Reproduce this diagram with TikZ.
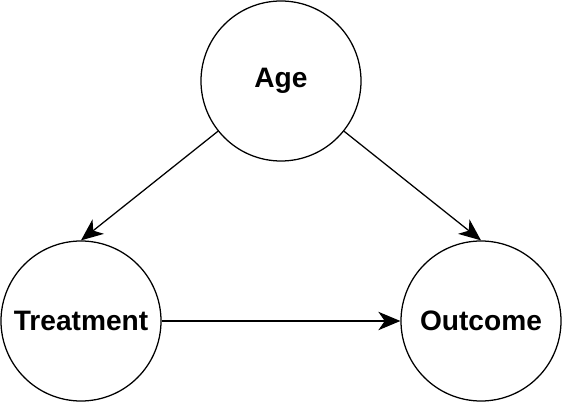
\documentclass[tikz,border=0pt]{standalone}
\usepackage{fontspec}
\setmainfont{Liberation Sans}
\usepackage{tikz}
\usetikzlibrary{arrows.meta,shapes,positioning}
\tikzstyle{arrow} = [line width=0.9pt,-{Stealth[length=5.5mm,width=4.6mm,inset=1.6mm]},color=black]
\tikzstyle{varnode} = [circle, minimum size=4cm, inner sep=0pt, text centered, draw=black, fill=white, line width=0.9pt, font=\bfseries\fontsize{20}{24}\selectfont]

\begin{document}
\begin{tikzpicture}
\useasboundingbox (0,0) rectangle (14.05,10.1);
% Variables
\node[varnode] (age) at (7.025,8.075) {Age};
\node[varnode] (treatment) at (2.025,2.075) {Treatment};
\node[varnode] (outcome) at (12.025,2.075) {Outcome};

% Connections
\draw[arrow] (age) -- (treatment.north);
\draw[arrow] (age) -- (outcome.north);
\draw[arrow] (treatment) -- (outcome);
\end{tikzpicture}
\end{document}
